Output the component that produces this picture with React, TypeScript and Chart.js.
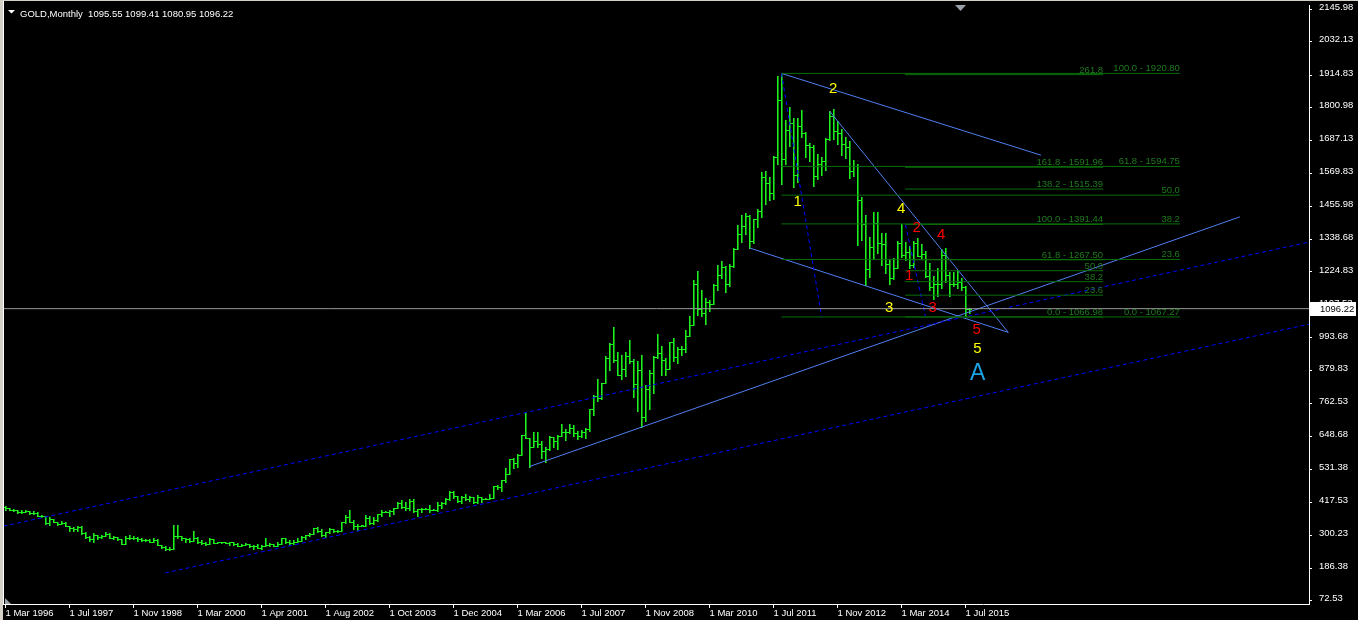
import React, { useEffect, useRef } from 'react';
import { Chart, registerables } from 'chart.js';

Chart.register(...registerables);

// ---------- header ----------
const symbolTitle = 'GOLD,Monthly';
const headerQuote = ['1095.55', '1099.41', '1080.95', '1096.22'];
const bidPrice = 1096.22;

// ---------- axes ----------
const xTickIndex = [0, 16, 32, 48, 64, 80, 96, 112, 128, 144, 160, 176, 192, 208, 224, 240];
const xTickLabels = ['1 Mar 1996', '1 Jul 1997', '1 Nov 1998', '1 Mar 2000', '1 Apr 2001', '1 Aug 2002', '1 Oct 2003', '1 Dec 2004', '1 Mar 2006', '1 Jul 2007', '1 Nov 2008', '1 Mar 2010', '1 Jul 2011', '1 Nov 2012', '1 Mar 2014', '1 Jul 2015'];
const yTickValues = [2145.98, 2032.13, 1914.83, 1800.98, 1687.13, 1569.83, 1455.98, 1338.68, 1224.83, 1107.53, 993.68, 879.83, 762.53, 648.68, 531.38, 417.53, 300.23, 186.38, 72.53];
const yMin = 61.07;
const yMax = 2160.56;
const xMin = -0.375;
const xMax = 325.875;

// ---------- monthly OHLC bars (bar index 0 = first bar) ----------
const opens = [
  400, 396, 392, 391, 382, 385, 387, 379, 379, 371, 369, 345, 358, 348, 340, 345,
  334, 326, 325, 332, 311, 296, 290, 303, 297, 301, 308, 293, 296, 288, 273, 293,
  292, 294, 288, 287, 287, 279, 286, 268, 261, 255, 254, 299, 299, 291, 290, 283,
  293, 278, 275, 272, 289, 276, 277, 277, 276, 277, 273, 264, 269, 273, 265, 266,
  258, 264, 267, 270, 266, 273, 293, 279, 275, 278, 282, 296, 302, 308, 326, 318,
  304, 312, 323, 317, 318, 347, 367, 347, 334, 336, 336, 361, 346, 354, 375, 385,
  385, 386, 398, 416, 402, 396, 423, 388, 393, 395, 395, 391, 391, 407, 415, 429,
  452, 438, 422, 435, 428, 435, 417, 436, 429, 429, 433, 473, 470, 495, 517, 569,
  556, 582, 654, 643, 613, 633, 623, 598, 604, 646, 632, 650, 665, 663, 679, 659,
  650, 665, 673, 743, 789, 783, 834, 923, 971, 917, 864, 886, 930, 914, 833, 880,
  718, 815, 869, 928, 942, 916, 883, 979, 927, 955, 955, 1001, 1040, 1182, 1096, 1081,
  1118, 1113, 1179, 1213, 1244, 1181, 1247, 1307, 1357, 1386, 1421, 1332, 1410, 1439, 1556, 1536,
  1500, 1628, 1826, 1620, 1722, 1746, 1566, 1737, 1711, 1669, 1664, 1561, 1604, 1615, 1692, 1772,
  1719, 1713, 1675, 1663, 1578, 1596, 1476, 1393, 1234, 1313, 1395, 1327, 1323, 1253, 1202, 1240,
  1326, 1284, 1296, 1250, 1327, 1282, 1287, 1209, 1171, 1183, 1184, 1284, 1213, 1183, 1184, 1190,
  1172, 1095.55,
];
const highs = [
  406, 398, 395, 392, 389, 389, 388, 386, 384, 373, 369, 367, 359, 349, 351, 347,
  335, 332, 336, 335, 314, 299, 309, 304, 304, 315, 310, 299, 297, 290, 300, 302,
  301, 297, 293, 290, 290, 292, 290, 268, 264, 262, 339, 339, 301, 292, 292, 316,
  296, 285, 279, 294, 290, 278, 279, 278, 279, 278, 275, 270, 275, 273, 268, 271,
  268, 294, 276, 272, 280, 293, 294, 286, 284, 291, 301, 303, 311, 328, 331, 324,
  315, 328, 325, 322, 349, 372, 389, 354, 340, 338, 373, 370, 367, 376, 390, 387,
  391, 398, 417, 427, 419, 429, 428, 395, 396, 397, 409, 393, 418, 418, 432, 456,
  457, 441, 438, 447, 438, 436, 442, 437, 431, 448, 475, 478, 497, 538, 570, 574,
  587, 655, 730, 644, 665, 664, 634, 610, 649, 647, 654, 691, 673, 692, 690, 669,
  672, 677, 745, 795, 848, 836, 932, 975, 1033, 944, 935, 944, 988, 921, 914, 934,
  829, 882, 931, 1006, 964, 925, 981, 993, 961, 964, 1021, 1071, 1196, 1227, 1163, 1133,
  1128, 1181, 1249, 1265, 1245, 1253, 1310, 1388, 1425, 1431, 1424, 1411, 1447, 1575, 1577, 1556,
  1633, 1911, 1920.8, 1756, 1804, 1764, 1764, 1791, 1716, 1677, 1669, 1640, 1628, 1693, 1789, 1796,
  1755, 1725, 1697, 1684, 1617, 1604, 1487, 1424, 1348, 1434, 1434, 1362, 1361, 1267, 1275, 1332,
  1392, 1331, 1315, 1332, 1345, 1322, 1297, 1256, 1209, 1239, 1307, 1309, 1224, 1224, 1232, 1205,
  1174, 1099.41,
];
const lows = [
  392, 389, 388, 380, 380, 384, 378, 378, 369, 367, 341, 339, 347, 337, 340, 334,
  317, 318, 317, 308, 294, 281, 278, 290, 293, 300, 292, 289, 287, 272, 273, 288,
  288, 283, 283, 282, 278, 278, 267, 257, 252, 251, 253, 294, 286, 279, 280, 283,
  276, 273, 269, 271, 275, 275, 276, 275, 268, 268, 263, 263, 267, 262, 255, 256,
  255, 263, 264, 264, 265, 270, 275, 272, 271, 278, 281, 288, 299, 307, 315, 301,
  297, 310, 312, 313, 316, 346, 347, 323, 319, 335, 335, 341, 342, 352, 371, 384,
  371, 376, 396, 399, 391, 390, 382, 371, 383, 394, 385, 390, 386, 399, 413, 426,
  432, 418, 416, 424, 423, 414, 414, 418, 428, 429, 433, 463, 457, 489, 515, 538,
  540, 582, 643, 543, 610, 611, 572, 560, 602, 611, 603, 649, 636, 661, 650, 641,
  645, 642, 669, 724, 773, 778, 834, 882, 911, 862, 850, 860, 906, 786, 736, 681,
  702, 745, 800, 925, 865, 865, 883, 913, 905, 933, 945, 1000, 1040, 1075, 1072, 1044,
  1088, 1113, 1160, 1202, 1155, 1175, 1241, 1307, 1330, 1358, 1309, 1328, 1381, 1418, 1462, 1478,
  1479, 1603, 1532, 1603, 1668, 1523, 1540, 1697, 1627, 1614, 1527, 1549, 1565, 1583, 1688, 1691,
  1672, 1636, 1625, 1554, 1562, 1321, 1338, 1180, 1208, 1272, 1292, 1251, 1221, 1182, 1201, 1239,
  1277, 1268, 1240, 1241, 1280, 1275, 1206, 1160, 1131, 1142, 1167, 1191, 1142, 1175, 1170, 1162,
  1072, 1080.95,
];
const closes = [
  396, 392, 391, 382, 385, 387, 379, 379, 371, 369, 345, 358, 348, 340, 345, 334,
  326, 325, 332, 311, 296, 290, 303, 297, 301, 308, 293, 296, 288, 273, 293, 292,
  294, 288, 287, 287, 279, 286, 268, 261, 255, 254, 299, 299, 291, 290, 283, 293,
  278, 275, 272, 289, 276, 277, 277, 276, 277, 273, 264, 269, 273, 265, 266, 258,
  264, 267, 270, 266, 273, 293, 279, 275, 278, 282, 296, 302, 308, 326, 318, 304,
  312, 323, 317, 318, 347, 367, 347, 334, 336, 337, 361, 346, 354, 375, 385, 385,
  386, 398, 416, 402, 396, 423, 388, 393, 395, 395, 391, 391, 407, 415, 429, 452,
  438, 422, 435, 428, 435, 417, 436, 429, 430, 433, 473, 470, 495, 517, 569, 556,
  582, 654, 643, 613, 633, 623, 598, 604, 646, 632, 650, 665, 663, 679, 659, 650,
  665, 673, 743, 789, 783, 834, 923, 971, 917, 864, 886, 930, 914, 833, 880, 718,
  815, 869, 928, 942, 916, 883, 979, 927, 955, 955, 1001, 1040, 1182, 1096, 1081, 1118,
  1113, 1179, 1213, 1244, 1181, 1247, 1307, 1357, 1386, 1421, 1332, 1410, 1439, 1556, 1536, 1500,
  1628, 1826, 1620, 1722, 1746, 1566, 1737, 1711, 1669, 1664, 1561, 1604, 1615, 1692, 1772, 1719,
  1713, 1675, 1663, 1578, 1596, 1476, 1393, 1234, 1313, 1395, 1327, 1323, 1253, 1202, 1240, 1326,
  1284, 1296, 1250, 1327, 1282, 1287, 1209, 1171, 1183, 1184, 1284, 1213, 1183, 1184, 1190, 1172,
  1095, 1096.22,
];

// ---------- drawn objects (anchors in [bar index, price]) ----------
const peakTrendLine = [[194, 1920.8], [258.9, 1634]];
const upperWedgeLine = [[206, 1789], [250.7, 1013]];
const lowerWedgeLine = [[186, 1309], [250.7, 1013]];
const supportLine = [[131, 543], [308.6, 1418]];
const upperChannelDashed = [[-0.5, 334], [326, 1330]];
const lowerChannelDashed = [[39.9, 170], [326, 1042]];
const waveDashedA = [[194, 1920.8], [204, 1070]];
const waveDashedB = [[225, 1390], [230, 1068]];

// Fibonacci set A (retracement)
const fibAPrices = [1920.8, 1594.75, 1494.04, 1393.31, 1268.7, 1067.27];
const fibALabels = ['100.0 - 1920.80', '61.8 - 1594.75', '50.0', '38.2', '23.6', '0.0 - 1067.27'];
const fibARange = [194, 293.6];
// Fibonacci set B (expansion)
const fibBPrices = [1916.44, 1591.96, 1515.39, 1391.44, 1267.5, 1229.21, 1190.92, 1143.55, 1066.98];
const fibBLabels = ['261.8', '161.8 - 1591.96', '138.2 - 1515.39', '100.0 - 1391.44', '61.8 - 1267.50', '50.0', '38.2', '23.6', '0.0 - 1066.98'];
const fibBRange = [224.9, 274.4];

// wave labels
const yellowWaveText = ['1', '2', '3', '4', '5'];
const yellowWaveIdx = [198.05, 206.9, 220.9, 223.9, 242.95];
const yellowWavePrice = [1470, 1865, 1100, 1446, 957];
const redWaveText = ['1', '2', '3', '4', '5'];
const redWaveIdx = [225.9, 227.8, 231.8, 233.9, 242.8];
const redWavePrice = [1211, 1380, 1098, 1355, 1021];
const cycleText = ['A'];
const cycleIdx = [243.05];
const cyclePrice = [870];

// ---------- styles ----------
const FONT = '"Liberation Sans", Arial, sans-serif';
const BAR_COLOR = '#1ef01e';
const BAR_SHADE = '#0c8c0c';
const SOLID_BLUE = '#4f7ff0';
const DASH_BLUE = '#0000ff';
const FIB_LINE = '#0a6e0a';
const FIB_TEXT = '#1f7a1f';
const PRICE_LINE = '#999999';

function seg(points: number[][], color: string, dash: number[] = []) {
  return {
    type: 'line' as const,
    data: points.map(([x, y]) => ({ x, y })),
    borderColor: color,
    borderWidth: 1,
    borderDash: dash,
    pointRadius: 0,
    fill: false,
    tension: 0,
  };
}

export default function App() {
  const ref = useRef<HTMLCanvasElement>(null);

  useEffect(() => {
    document.body.style.margin = '0';
    document.body.style.background = '#000';
    const canvas = ref.current;
    if (!canvas) return;

    const datasets: any[] = [];
    fibAPrices.forEach((p) => datasets.push(seg([[fibARange[0], p], [fibARange[1], p]], FIB_LINE)));
    fibBPrices.forEach((p) => datasets.push(seg([[fibBRange[0], p], [fibBRange[1], p]], FIB_LINE)));
    datasets.push(seg([[xMin - 1, bidPrice], [xMax + 1, bidPrice]], PRICE_LINE));
    datasets.push(seg(upperChannelDashed, DASH_BLUE, [4, 3]));
    datasets.push(seg(lowerChannelDashed, DASH_BLUE, [4, 3]));
    datasets.push(seg(waveDashedA, DASH_BLUE, [4, 3]));
    datasets.push(seg(waveDashedB, DASH_BLUE, [4, 3]));
    datasets.push(seg(peakTrendLine, SOLID_BLUE));
    datasets.push(seg(upperWedgeLine, SOLID_BLUE));
    datasets.push(seg(lowerWedgeLine, SOLID_BLUE));
    datasets.push(seg(supportLine, SOLID_BLUE));

    const bgPlugin = {
      id: 'bg',
      beforeDraw(chart: any) {
        const { ctx, width, height } = chart;
        ctx.save();
        ctx.fillStyle = '#000';
        ctx.fillRect(0, 0, width, height);
        ctx.restore();
      },
    };

    const ohlcPlugin = {
      id: 'ohlc',
      beforeDatasetsDraw(chart: any) {
        const { ctx, chartArea, scales } = chart;
        const x = scales.x;
        const y = scales.y;
        ctx.save();
        ctx.beginPath();
        ctx.rect(chartArea.left, chartArea.top, chartArea.right - chartArea.left, chartArea.bottom - chartArea.top);
        ctx.clip();
        for (let i = 0; i < closes.length; i++) {
          const px = Math.floor(x.getPixelForValue(i));
          const yh = Math.round(y.getPixelForValue(highs[i]));
          const yl = Math.round(y.getPixelForValue(lows[i]));
          const yo = Math.round(y.getPixelForValue(opens[i]));
          const yc = Math.round(y.getPixelForValue(closes[i]));
          const h = Math.max(1, yl - yh + 1);
          ctx.fillStyle = BAR_SHADE;
          ctx.fillRect(px + 1, yh, 1, h);
          ctx.fillStyle = BAR_COLOR;
          ctx.fillRect(px, yh, 1, h);
          ctx.fillRect(px - 2, yo, 2, 1);
          ctx.fillRect(px + 1, yc, 2, 1);
        }
        ctx.restore();
      },
    };

    const overlayPlugin = {
      id: 'overlay',
      afterDatasetsDraw(chart: any) {
        const { ctx, scales } = chart;
        const x = scales.x;
        const y = scales.y;
        ctx.save();
        // fib labels
        ctx.font = `9.5px ${FONT}`;
        ctx.fillStyle = FIB_TEXT;
        ctx.textAlign = 'right';
        ctx.textBaseline = 'alphabetic';
        fibAPrices.forEach((p, i) => {
          ctx.fillText(fibALabels[i], x.getPixelForValue(fibARange[1]), y.getPixelForValue(p) - 2);
        });
        fibBPrices.forEach((p, i) => {
          ctx.fillText(fibBLabels[i], x.getPixelForValue(fibBRange[1]), y.getPixelForValue(p) - 2);
        });
        // wave labels
        ctx.textAlign = 'center';
        ctx.textBaseline = 'middle';
        ctx.font = `15px ${FONT}`;
        ctx.fillStyle = '#ffff00';
        yellowWaveText.forEach((t, i) => {
          ctx.fillText(t, x.getPixelForValue(yellowWaveIdx[i]), y.getPixelForValue(yellowWavePrice[i]));
        });
        ctx.fillStyle = '#ff0000';
        redWaveText.forEach((t, i) => {
          ctx.fillText(t, x.getPixelForValue(redWaveIdx[i]), y.getPixelForValue(redWavePrice[i]));
        });
        ctx.font = `23px ${FONT}`;
        ctx.fillStyle = '#1ca3e4';
        cycleText.forEach((t, i) => {
          ctx.fillText(t, x.getPixelForValue(cycleIdx[i]), y.getPixelForValue(cyclePrice[i]));
        });
        ctx.restore();
      },
      afterDraw(chart: any) {
        const { ctx, chartArea, scales, width, height } = chart;
        const y = scales.y;
        ctx.save();
        // bid price box on the axis
        const by = Math.round(y.getPixelForValue(bidPrice));
        ctx.fillStyle = '#ffffff';
        ctx.fillRect(chartArea.right + 1, by - 7, width - chartArea.right - 3, 14);
        ctx.fillStyle = '#000000';
        ctx.font = `9.5px ${FONT}`;
        ctx.textAlign = 'left';
        ctx.textBaseline = 'middle';
        ctx.fillText(bidPrice.toFixed(2), chartArea.right + 11, by);
        // window frame
        ctx.fillStyle = '#d4d0c8';
        ctx.fillRect(0, 0, 3, height);
        ctx.fillRect(0, 0, width, 1);
        ctx.fillStyle = '#ffffff';
        ctx.fillRect(3, 1, 1, chartArea.bottom);
        // header
        ctx.fillStyle = '#ffffff';
        ctx.beginPath();
        ctx.moveTo(8, 10);
        ctx.lineTo(15, 10);
        ctx.lineTo(11.5, 13.5);
        ctx.closePath();
        ctx.fill();
        ctx.font = `9.5px ${FONT}`;
        ctx.textAlign = 'left';
        ctx.textBaseline = 'middle';
        ctx.fillText(symbolTitle + '  ' + headerQuote.join(' '), 20, 14);
        // chart shift marker
        ctx.fillStyle = '#9aa0a8';
        const sx = Math.round(scales.x.getPixelForValue(xTickIndex[xTickIndex.length - 1])) - 5;
        ctx.beginPath();
        ctx.moveTo(sx - 5, 5);
        ctx.lineTo(sx + 6, 5);
        ctx.lineTo(sx + 0.5, 11);
        ctx.closePath();
        ctx.fill();
        // scroll marker bottom-left
        ctx.beginPath();
        ctx.moveTo(chartArea.left + 1, chartArea.bottom - 6);
        ctx.lineTo(chartArea.left + 1, chartArea.bottom);
        ctx.lineTo(chartArea.left + 7, chartArea.bottom);
        ctx.closePath();
        ctx.fill();
        ctx.restore();
      },
    };

    const chart = new Chart(canvas, {
      type: 'line',
      data: { datasets },
      options: {
        animation: false,
        responsive: false,
        maintainAspectRatio: false,
        devicePixelRatio: 1,
        events: [],
        layout: { padding: { left: 4, top: 5, right: 0, bottom: 0 } },
        plugins: { legend: { display: false }, tooltip: { enabled: false } },
        scales: {
          x: {
            type: 'linear',
            min: xMin,
            max: xMax,
            afterBuildTicks: (s: any) => {
              s.ticks = xTickIndex.map((value) => ({ value }));
            },
            afterFit: (s: any) => {
              s.height = 16;
              s.paddingLeft = 0;
              s.paddingRight = 0;
            },
            ticks: {
              autoSkip: false,
              maxRotation: 0,
              minRotation: 0,
              align: 'start',
              padding: 0,
              color: '#ffffff',
              font: { family: FONT, size: 9.5 },
              callback: (_v: any, i: number) => xTickLabels[i],
            },
            grid: { drawOnChartArea: false, color: '#ffffff', tickLength: 4 },
            border: { display: true, color: '#ffffff', width: 1 },
          },
          y: {
            type: 'linear',
            position: 'right',
            min: yMin,
            max: yMax,
            afterBuildTicks: (s: any) => {
              s.ticks = yTickValues.map((value) => ({ value }));
            },
            afterFit: (s: any) => {
              s.width = 49;
              s.paddingTop = 0;
              s.paddingBottom = 0;
            },
            ticks: {
              autoSkip: false,
              padding: 7,
              labelOffset: -2,
              color: '#ffffff',
              font: { family: FONT, size: 9.5 },
              callback: (v: any) => Number(v).toFixed(2),
            },
            grid: { drawOnChartArea: false, color: '#ffffff', tickLength: 3 },
            border: { display: true, color: '#ffffff', width: 1 },
          },
        },
      } as any,
      plugins: [bgPlugin, ohlcPlugin, overlayPlugin],
    });

    return () => chart.destroy();
  }, []);

  return (
    <div style={{ position: 'fixed', left: 0, top: 0, width: 1358, height: 620, background: '#000' }}>
      <canvas ref={ref} width={1358} height={620} style={{ display: 'block', width: 1358, height: 620 }} />
    </div>
  );
}
